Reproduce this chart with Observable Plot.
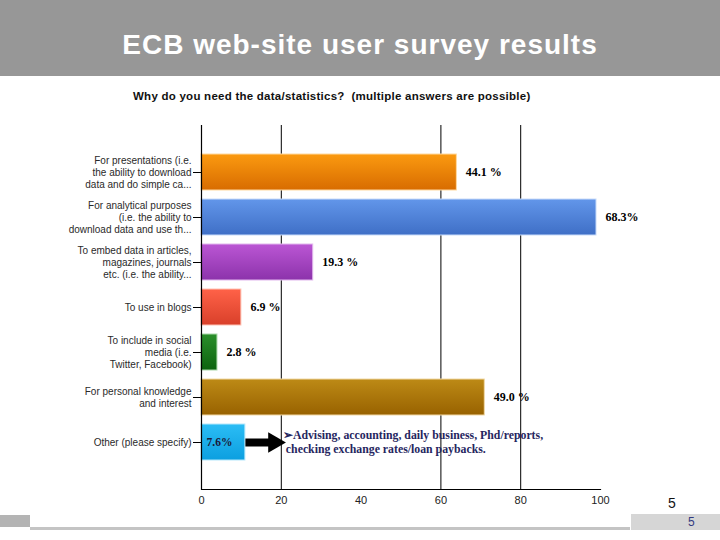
<!DOCTYPE html>
<html>
<head>
<meta charset="utf-8">
<script src="https://cdn.jsdelivr.net/npm/d3@7"></script>
<script src="https://cdn.jsdelivr.net/npm/@observablehq/plot@0.6"></script>
<style>
  html, body { margin: 0; padding: 0; background: #fff; }
  #page { position: relative; width: 720px; height: 540px; overflow: hidden; background: #fff; font-family: "Liberation Sans", Arial, sans-serif; }
  #header { position: absolute; left: 0; top: 0; width: 720px; height: 76px; background: #979797; }
  #title { position: absolute; left: 0; top: 26px; width: 720px; text-align: center; color: #fff; font-size: 28px; font-weight: bold; letter-spacing: 1px; line-height: 38px; }
  #subtitle { position: absolute; left: 133px; top: 90px; font-size: 11.5px; font-weight: bold; letter-spacing: 0.25px; color: #111; white-space: pre; }
  #chart { position: absolute; left: 0; top: 76px; }
  #pagenum { position: absolute; left: 668px; top: 495px; font-size: 14px; color: #111; }
  #footband { position: absolute; left: 30px; top: 527px; width: 600px; height: 3px; background: #c4c4c4; }
  #footleft { position: absolute; left: 0; top: 515px; width: 30px; height: 12px; background: #b4b4b4; }
  #footright { position: absolute; left: 631px; top: 514px; width: 89px; height: 16px; background: #d6d6d6; }
  #footnum { position: absolute; left: 688px; top: 515px; font-size: 12px; color: #333a80; }
</style>
</head>
<body>
<svg width="0" height="0" style="position:absolute">
  <defs>
    <linearGradient id="gOrange" x1="0" y1="0" x2="0" y2="1"><stop offset="0" stop-color="#fb9a10"/><stop offset="1" stop-color="#d86c00"/></linearGradient>
    <linearGradient id="gBlue" x1="0" y1="0" x2="0" y2="1"><stop offset="0" stop-color="#6296ea"/><stop offset="1" stop-color="#3f6fc6"/></linearGradient>
    <linearGradient id="gPurple" x1="0" y1="0" x2="0" y2="1"><stop offset="0" stop-color="#bb56d4"/><stop offset="1" stop-color="#8c33ab"/></linearGradient>
    <linearGradient id="gRed" x1="0" y1="0" x2="0" y2="1"><stop offset="0" stop-color="#ff6248"/><stop offset="1" stop-color="#d9402a"/></linearGradient>
    <linearGradient id="gGreen" x1="0" y1="0" x2="0" y2="1"><stop offset="0" stop-color="#2b8f2b"/><stop offset="1" stop-color="#0c630e"/></linearGradient>
    <linearGradient id="gBrown" x1="0" y1="0" x2="0" y2="1"><stop offset="0" stop-color="#bd8a16"/><stop offset="1" stop-color="#986200"/></linearGradient>
    <linearGradient id="gCyan" x1="0" y1="0" x2="0" y2="1"><stop offset="0" stop-color="#2bbdf5"/><stop offset="1" stop-color="#0c9fe0"/></linearGradient>
  </defs>
</svg>
<div id="page">
  <div id="header"><div id="title">ECB web-site user survey results</div></div>
  <div id="subtitle">Why do you need the data/statistics?  (multiple answers are possible)</div>
  <div id="chart"></div>
  <div id="pagenum">5</div>
  <div id="footleft"></div>
  <div id="footband"></div>
  <div id="footright"></div>
  <div id="footnum">5</div>
</div>
<script>
// Categories (axis labels, multi-line as in the chart)
const categories = [
  "For presentations (i.e.\nthe ability to download\ndata and do simple ca...",
  "For analytical purposes\n(i.e. the ability to\ndownload data and use th...",
  "To embed data in articles,\nmagazines, journals\netc. (i.e. the ability...",
  "To use in blogs",
  "To include in social\nmedia (i.e.\nTwitter, Facebook)",
  "For personal knowledge\nand interest",
  "Other (please specify)"
];
// Bar lengths as drawn on the 0-100 axis
const barValues = [64, 99, 28, 10, 4, 71, 11];
// Value labels overlaid on the chart
const valueLabels = ["44.1 %", "68.3%", "19.3 %", "6.9 %", "2.8 %", "49.0 %", "7.6%"];
// X-axis ticks
const xTicks = [0, 20, 40, 60, 80, 100];
const gridTicks = [20, 60, 80];
// Annotation
const annotationText = "\u27A2Advising, accounting, daily business, Phd/reports,\n checking exchange rates/loan paybacks.";
const arrowFrom = 11, arrowTo = 17, arrowHeadAt = 18.2, annotationAt = 20.4;

const fills = ["url(#gOrange)", "url(#gBlue)", "url(#gPurple)", "url(#gRed)", "url(#gGreen)", "url(#gBrown)", "url(#gCyan)"];
const strokes = ["#ffd9a0", "#c9dcfa", "#e2b8ee", "#ffc2b4", "#a9d8a9", "#f2d9a6", "#b5e8fc"];

const data = categories.map((c, i) => ({category: c, value: barValues[i], label: valueLabels[i], stroke: strokes[i]}));
const outside = data.slice(0, 6);
const inside = data.slice(6);
const other = categories[6];

const chart = Plot.plot({
  width: 720,
  height: 440,
  marginTop: 49,
  marginBottom: 27,
  marginLeft: 201,
  marginRight: 120,
  style: {background: "transparent", fontFamily: "'Liberation Sans', Arial, sans-serif"},
  x: {domain: [0, 100], label: null},
  y: {domain: categories, paddingInner: 0.2, paddingOuter: 0.6, label: null},
  color: {domain: categories, range: fills},
  marks: [
    Plot.gridX(gridTicks, {stroke: "#000", strokeOpacity: 1, strokeWidth: 1}),
    Plot.barX(data, {x: "value", y: "category", fill: "category", stroke: "stroke", strokeWidth: 1}),
    Plot.ruleX([0], {stroke: "#000", strokeWidth: 1.2}),
    Plot.frame({anchor: "bottom", stroke: "#000", strokeWidth: 1.2}),
    Plot.axisX({ticks: xTicks, tickSize: 0, tickPadding: 7, fontSize: 11, fill: "#222", label: null}),
    Plot.axisY({tickSize: 8, tickPadding: 2, fontSize: 10, fill: "#2a2a2a", stroke: "#000", lineHeight: 1.2, label: null}),
    Plot.text(outside, {x: "value", y: "category", text: "label", dx: 9, textAnchor: "start", fontFamily: "'Liberation Serif', 'Times New Roman', serif", fontWeight: "bold", fontSize: 12, fill: "#000"}),
    Plot.text(inside, {x: 0, y: "category", text: "label", dx: 5, textAnchor: "start", fontFamily: "'Liberation Serif', 'Times New Roman', serif", fontWeight: "bold", fontSize: 11.5, fill: "#1a1a3a"}),
    Plot.link([{y: other}], {x1: () => arrowFrom, x2: () => arrowTo, y1: "y", y2: "y", stroke: "#000", strokeWidth: 8}),
    Plot.dot([{y: other}], {x: () => arrowHeadAt, y: "y", symbol: "triangle", rotate: 90, r: 7.6, fill: "#000", stroke: "none"}),
    Plot.text([{y: other}], {x: () => annotationAt, y: "y", text: () => annotationText, textAnchor: "start", lineAnchor: "middle", lineHeight: 1.2, dy: -1, fontFamily: "'Liberation Serif', 'Times New Roman', serif", fontWeight: "bold", fontSize: 11.8, fill: "#262660"})
  ]
});
document.getElementById("chart").appendChild(chart);
</script>
</body>
</html>
